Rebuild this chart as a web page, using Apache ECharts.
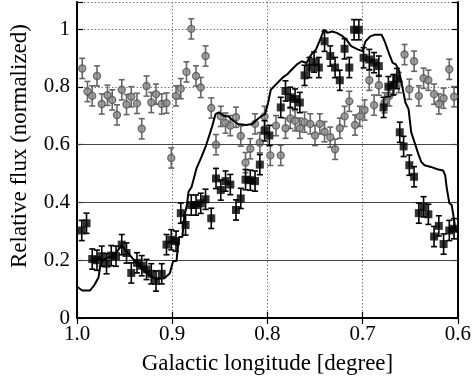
<!DOCTYPE html>
<html>
<head>
<meta charset="utf-8">
<script src="https://cdn.jsdelivr.net/npm/echarts@6/dist/echarts.min.js"></script>
<style>
html,body{margin:0;padding:0;background:#fff;}
#c{width:474px;height:380px;}
</style>
</head>
<body>
<div id="c"></div>
<script>
// ---- data (longitude [deg], relative flux) ----
const xTicks = [1.0, 0.9, 0.8, 0.7, 0.6];
const yTicks = [0, 0.2, 0.4, 0.6, 0.8, 1];
const solidGridLevels = [0.2, 0.4, 0.6];

const grayLon = [0.9945,0.989,0.984,0.979,0.974,0.968,0.963,0.958,0.953,0.948,0.943,0.937,0.932,0.927,0.922,0.917,0.911,0.906,0.901,0.896,0.891,0.885,0.880,0.875,0.870,0.865,0.859,0.854,0.849,0.844,0.839,0.833,0.828,0.823,0.818,0.813,0.808,0.803,0.797,0.791,0.786,0.781,0.776,0.771,0.766,0.761,0.755,0.750,0.745,0.740,0.734,0.729,0.724,0.719,0.714,0.708,0.703,0.698,0.693,0.688,0.683,0.677,0.672,0.667,0.662,0.656,0.651,0.646,0.641,0.636,0.631,0.625,0.620,0.615,0.609,0.604];
const grayFlux = [0.864,0.784,0.769,0.838,0.741,0.771,0.755,0.703,0.790,0.739,0.766,0.743,0.655,0.803,0.746,0.775,0.741,0.744,0.554,0.769,0.794,0.852,1.001,0.838,0.798,0.907,0.727,0.600,0.698,0.675,0.666,0.695,0.630,0.538,0.586,0.672,0.607,0.698,0.563,0.666,0.563,0.657,0.691,0.683,0.657,0.678,0.672,0.632,0.672,0.645,0.626,0.584,0.657,0.698,0.750,0.668,0.698,0.720,0.823,0.737,0.806,0.745,0.769,0.809,0.815,0.912,0.792,0.889,0.769,0.830,0.823,0.775,0.741,0.761,0.861,0.766];
const grayErr = 0.035;

const blackLon = [0.995,0.990,0.984,0.979,0.974,0.969,0.964,0.959,0.953,0.948,0.943,0.937,0.932,0.927,0.922,0.917,0.911,0.906,0.901,0.896,0.891,0.886,0.880,0.875,0.870,0.865,0.859,0.854,0.849,0.844,0.839,0.833,0.828,0.823,0.818,0.813,0.808,0.803,0.798,0.786,0.781,0.776,0.771,0.766,0.761,0.756,0.751,0.746,0.740,0.734,0.729,0.724,0.719,0.714,0.709,0.704,0.699,0.693,0.688,0.683,0.678,0.673,0.668,0.664,0.661,0.657,0.651,0.646,0.641,0.636,0.631,0.625,0.620,0.615,0.609,0.604];
const blackFlux = [0.303,0.328,0.204,0.200,0.214,0.188,0.216,0.214,0.254,0.225,0.156,0.191,0.181,0.168,0.153,0.128,0.153,0.254,0.271,0.266,0.363,0.322,0.391,0.391,0.397,0.411,0.345,0.483,0.443,0.474,0.462,0.374,0.414,0.479,0.477,0.474,0.531,0.648,0.632,0.729,0.786,0.764,0.758,0.746,0.840,0.867,0.886,0.867,0.958,0.907,0.867,0.823,0.932,0.867,0.998,0.998,0.901,0.895,0.884,0.872,0.729,0.801,0.807,0.829,0.643,0.594,0.529,0.489,0.363,0.385,0.359,0.282,0.319,0.256,0.303,0.309];
const blackErr = 0.035;

const lineLon = [1.000,0.9945,0.9864,0.9814,0.9774,0.9754,0.9724,0.9633,0.9583,0.9533,0.9472,0.9412,0.9362,0.9302,0.9241,0.9171,0.9080,0.9025,0.8990,0.8955,0.8930,0.8894,0.8874,0.8846,0.8829,0.8796,0.8746,0.8696,0.8645,0.8611,0.8578,0.8545,0.8511,0.8460,0.8410,0.8360,0.8310,0.8226,0.8159,0.8109,0.8058,0.8025,0.7992,0.7965,0.7892,0.7841,0.7791,0.7741,0.7690,0.7640,0.7590,0.7540,0.7489,0.7439,0.7405,0.7372,0.7322,0.7271,0.7221,0.7171,0.7121,0.7053,0.7003,0.6970,0.6920,0.6869,0.6802,0.6769,0.6719,0.6685,0.6651,0.6618,0.6585,0.6551,0.6518,0.6490,0.6467,0.6444,0.6417,0.6384,0.6350,0.6283,0.6216,0.6156,0.6133,0.6116,0.6089,0.6065,0.6048,0.6032,0.6020,0.6000];
const lineFlux = [0.108,0.095,0.095,0.116,0.140,0.185,0.202,0.215,0.228,0.252,0.228,0.205,0.185,0.165,0.148,0.135,0.138,0.155,0.197,0.197,0.280,0.280,0.350,0.390,0.437,0.454,0.517,0.555,0.597,0.632,0.666,0.706,0.712,0.700,0.698,0.683,0.672,0.668,0.672,0.687,0.700,0.706,0.746,0.790,0.815,0.832,0.844,0.861,0.878,0.889,0.883,0.912,0.930,0.970,0.998,0.987,0.992,0.987,0.978,0.964,0.941,0.930,0.924,0.958,0.975,0.981,0.981,0.958,0.912,0.883,0.878,0.855,0.803,0.746,0.723,0.643,0.620,0.597,0.569,0.540,0.529,0.523,0.515,0.511,0.494,0.448,0.397,0.391,0.357,0.322,0.300,0.300];

// ---- build ----
const zip = (a, b, e) => a.map((v, i) => e === undefined ? [v, b[i]] : [v, b[i], e]);
const FONT = '"Liberation Serif", "Times New Roman", serif';
const X_MIN = 0.6, X_MAX = 1.0, Y_MIN = 0, Y_MAX = 1.094;

function errRender(color) {
  return function (params, api) {
    const x = api.value(0), y = api.value(1), e = api.value(2);
    const t = api.coord([x, y + e]);
    const b = api.coord([x, y - e]);
    const w = 3;
    const st = { stroke: color, lineWidth: 1.6 };
    return {
      type: 'group',
      children: [
        { type: 'line', shape: { x1: t[0], y1: t[1], x2: b[0], y2: b[1] }, style: st },
        { type: 'line', shape: { x1: t[0] - w, y1: t[1], x2: t[0] + w, y2: t[1] }, style: st },
        { type: 'line', shape: { x1: b[0] - w, y1: b[1], x2: b[0] + w, y2: b[1] }, style: st }
      ]
    };
  };
}

const yLabel = v => {
  for (const t of yTicks) if (Math.abs(v - t) < 1e-6) return String(t);
  return '';
};
const xLabel = v => {
  for (const t of xTicks) if (Math.abs(v - t) < 1e-6) return t.toFixed(1);
  return '';
};

const chart = echarts.init(document.getElementById('c'), null, { renderer: 'canvas' });
chart.setOption({
  animation: false,
  backgroundColor: '#fff',
  grid: { left: 68.5, right: 7, top: 2, bottom: 59.5, containLabel: false },
  xAxis: [{
    type: 'value', inverse: true, min: X_MIN, max: X_MAX, interval: 0.1,
    name: 'Galactic longitude [degree]', nameLocation: 'middle', nameGap: 34,
    nameTextStyle: { fontFamily: FONT, fontSize: 23, color: '#000' },
    axisLine: { show: true, lineStyle: { color: '#000', width: 2 } },
    axisTick: { show: true, inside: true, length: 6, lineStyle: { color: '#000', width: 1.2 } },
    axisLabel: { formatter: xLabel, fontFamily: FONT, fontSize: 21, color: '#000', margin: 6 },
    splitLine: { show: true, lineStyle: { color: '#777', type: [1.5, 2], width: 1 } }
  }, {
    type: 'value', inverse: true, min: X_MIN, max: X_MAX, interval: 0.1, position: 'top',
    axisLine: { show: true, lineStyle: { color: '#000', width: 2 } },
    axisTick: { show: true, inside: true, length: 6, lineStyle: { color: '#000', width: 1.2 } },
    axisLabel: { show: false }, splitLine: { show: false }
  }],
  yAxis: [{
    type: 'value', min: Y_MIN, max: Y_MAX, interval: 0.2,
    name: 'Relative flux (normalized)', nameLocation: 'middle', nameGap: 46,
    nameTextStyle: { fontFamily: FONT, fontSize: 23, color: '#000', padding: [0, 0, 0, 28] },
    axisLine: { show: true, lineStyle: { color: '#000', width: 2 } },
    axisTick: { show: true, inside: true, length: 6, lineStyle: { color: '#000', width: 1.2 } },
    axisLabel: { formatter: yLabel, fontFamily: FONT, fontSize: 21, color: '#000', margin: 7 },
    splitLine: { show: true, lineStyle: { color: '#777', type: [1.5, 2], width: 1 } }
  }, {
    type: 'value', min: Y_MIN, max: Y_MAX, interval: 0.2, position: 'right',
    axisLine: { show: true, lineStyle: { color: '#000', width: 2 } },
    axisTick: { show: true, inside: true, length: 6, lineStyle: { color: '#000', width: 1.2 } },
    axisLabel: { show: false }, splitLine: { show: false }
  }],
  series: [
    {
      type: 'line', data: [], silent: true,
      markLine: {
        silent: true, symbol: 'none', label: { show: false },
        lineStyle: { color: '#444', type: 'solid', width: 1 },
        data: solidGridLevels.map(v => ({ yAxis: v }))
      }
    },
    {
      type: 'custom', renderItem: errRender('#666'), data: zip(grayLon, grayFlux, grayErr).map(d => [d[0], d[1], d[2]]),
      encode: { x: 0, y: 1 }, z: 3
    },
    {
      type: 'scatter', data: zip(grayLon, grayFlux), symbol: 'circle', symbolSize: 7,
      itemStyle: { color: '#8c8c8c', borderColor: '#555', borderWidth: 1.4 }, z: 4
    },
    {
      type: 'line', data: zip(lineLon, lineFlux), showSymbol: false, symbol: 'none',
      lineStyle: { color: '#000', width: 2 }, z: 5
    },
    {
      type: 'custom', renderItem: errRender('#000'), data: blackLon.map((v, i) => [v, blackFlux[i], blackErr]),
      encode: { x: 0, y: 1 }, z: 6
    },
    {
      type: 'scatter', data: zip(blackLon, blackFlux), symbol: 'rect', symbolSize: 8,
      itemStyle: { color: '#000' }, z: 7
    }
  ]
});
</script>
</body>
</html>
